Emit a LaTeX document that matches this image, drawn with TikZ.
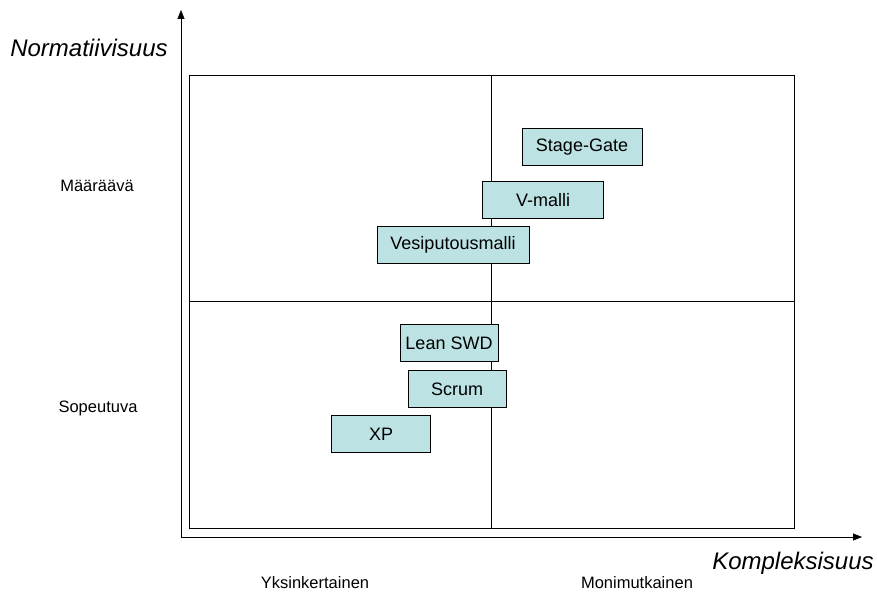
\documentclass[tikz,border=0pt]{standalone}
\usepackage{fontspec}
\setmainfont{Liberation Sans}
\usetikzlibrary{arrows.meta, positioning}
\definecolor{boxfill}{HTML}{BCE2E3}

\begin{document}
\begin{tikzpicture}[x=1pt, y=-1pt,
    method/.style={draw, fill=boxfill, minimum height=37pt, inner sep=2pt, font=\fontsize{18}{20}\selectfont},
    sidelabel/.style={font=\fontsize{16.5}{19}\selectfont},
    axistitle/.style={font=\fontsize{24}{28}\selectfont\itshape}]
    \useasboundingbox (0,0) rectangle (877,594);

    % Axes
    \coordinate (origin) at (181,537);
    \coordinate (ytop) at (181,10);
    \coordinate (xend) at (862,537);
    \draw[-{Triangle[length=9pt, width=7pt]}] (origin) -- (ytop);
    \draw[-{Triangle[length=9pt, width=7pt]}] (origin) -- (xend);
    \node[axistitle] (ytitle) at (89,48) {Normatiivisuus};
    \node[axistitle] (xtitle) at (793,563) {Kompleksisuus};

    % Quadrants
    \draw (189,75) rectangle (794,528);
    \draw (491,75) -- (491,528);
    \draw (189,301) -- (794,301);

    \node[sidelabel] (maaraava) at (97,186) {Määräävä};
    \node[sidelabel] (sopeutuva) at (98,408) {Sopeutuva};
    \node[sidelabel] (yksinkertainen) at (315,583) {Yksinkertainen};
    \node[sidelabel] (monimutkainen) at (637,583) {Monimutkainen};

    % Methods
    \node[method, minimum width=120pt] (stagegate) at (582,147) {Stage-Gate};
    \node[method, minimum width=121pt] (vmalli) at (543,200) {V-malli};
    \node[method, minimum width=152pt] (vesiputous) at (453,245) {Vesiputousmalli};
    \node[method, minimum width=98pt] (lean) at (449,343) {Lean SWD};
    \node[method, minimum width=98pt] (scrum) at (457,389) {Scrum};
    \node[method, minimum width=99pt] (xp) at (381,434) {XP};
\end{tikzpicture}
\end{document}
